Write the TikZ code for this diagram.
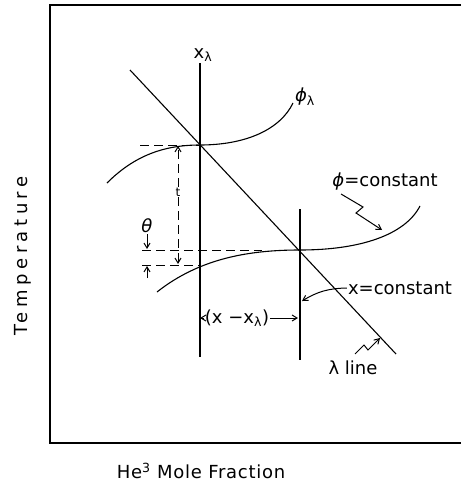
\documentclass[tikz,border=0pt]{standalone}
\usepackage{fontspec}
\setmainfont{DejaVu Sans}
\usepackage{tikz}
\usetikzlibrary{positioning, arrows.meta}

\begin{document}
\begin{tikzpicture}[x=1pt, y=-1pt,
        every node/.style={font=\fontsize{18}{21}\selectfont, inner sep=1pt},
        frame/.style={line width=1.3pt},
        curve/.style={line width=1.1pt},
        guide/.style={line width=1pt, dash pattern=on 9pt off 5pt},
        arr/.style={-{Straight Barb[length=5pt,width=6pt]}, line width=1pt},
      ]
        \useasboundingbox (0,0) rectangle (461,487);

        % Frame and axis labels
        \draw[frame] (461,5) -- (50,5) -- (50,443) -- (461,443);
        \node[rotate=90, font=\fontsize{18}{21}\selectfont\addfontfeature{LetterSpace=25}] (temp) at (23,256) {Temperature};
        \node[font=\fontsize{18}{21}\selectfont\addfontfeature{LetterSpace=4}] (frac) at (201,471) {He\textsuperscript{3} Mole Fraction};

        % Lambda line and the two vertical lines
        \coordinate (lam_top) at (130,70);
        \coordinate (lam_bot) at (396,354);
        \coordinate (xl_top) at (200,63);
        \coordinate (xl_bot) at (200,357);
        \coordinate (xc_top) at (300,209);
        \coordinate (xc_bot) at (300,360);
        \draw[curve] (lam_top) -- (lam_bot);
        \draw[curve] (xl_top) -- (xl_bot);
        \draw[curve] (xc_top) -- (xc_bot);
        \node[above=0pt of xl_top, xshift=3pt] (xl) {x\textsubscript{λ}};

        % Curves
        \coordinate (p_lam) at (200,145);
        \coordinate (p_con) at (300,250);
        \draw[curve] (107,183) .. controls (135,155) and (165,145) .. (p_lam)
                     .. controls (245,145) and (280,130) .. (293,103);
        \draw[curve] (157,292) .. controls (200,258) and (250,250) .. (p_con)
                     .. controls (360,250) and (405,235) .. (420,206);
        \node (philam) at (305,97) {{\itshape ϕ}\textsubscript{λ}};

        % Dashed guides
        \coordinate (g_top) at (140,145);
        \coordinate (g_mid) at (142,250);
        \coordinate (g_low) at (142,265);
        \coordinate (p_low) at (200,265);
        \draw[guide] (g_top) -- (p_lam);
        \draw[guide] (g_mid) -- (262,250);
        \draw[guide] (g_low) -- (p_low);

        % t arrow
        \node[font=\fontsize{12}{13}\selectfont] (tl) at (178,192) {t};
        \coordinate (t_top) at (178,146);
        \coordinate (t_bot) at (178,264);
        \draw[guide, arr] (tl) -- (t_top);
        \draw[guide, arr] (tl) -- (t_bot);

        % theta arrows
        \node (th) at (147,226) {\itshape θ};
        \coordinate (th_a) at (147,249);
        \coordinate (th_b) at (147,278);
        \coordinate (th_c) at (147,266);
        \draw[arr] (th) -- (th_a);
        \draw[arr] (th_b) -- (th_c);

        % (x - x_lambda)
        \node (dx) at (237,318) {(x −x\textsubscript{λ})};
        \coordinate (dx_l) at (200,318);
        \coordinate (dx_r) at (298,318);
        \draw[arr] (dx) -- (dx_l);
        \draw[arr] (dx) -- (dx_r);

        % Labels with arrows
        \node (xc) at (400,288) {x=constant};
        \coordinate (xc_tip) at (302,301);
        \draw[arr] (xc.west) to[bend right=15] (xc_tip);

        \node (pc) at (385,182) {{\itshape ϕ}=constant};
        \coordinate (pc_a) at (341,194);
        \coordinate (pc_tip) at (382,230);
        \draw[arr] (pc_a) -- (363,207) -- (356,213) -- (pc_tip);

        \node (ll) at (353,368) {λ line};
        \coordinate (ll_a) at (355,354);
        \coordinate (ll_tip) at (380,338);
        \draw[arr] (ll_a) -- (364,345) -- (368,350) -- (ll_tip);
      \end{tikzpicture}
\end{document}
